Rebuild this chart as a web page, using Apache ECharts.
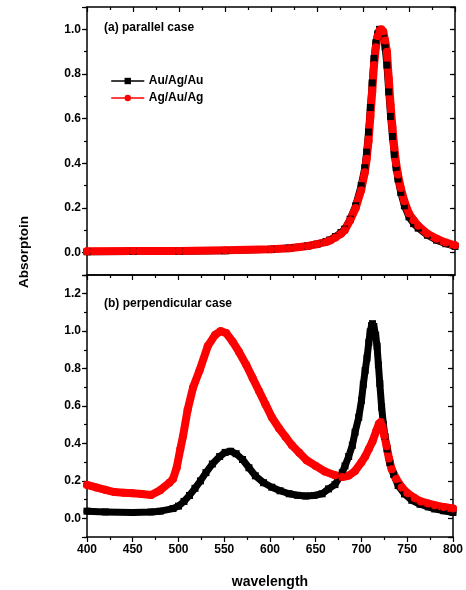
<!DOCTYPE html>
<html>
<head>
<meta charset="utf-8">
<script src="https://cdn.jsdelivr.net/npm/echarts@6/dist/echarts.min.js"></script>
<style>
  html, body { margin: 0; padding: 0; background: #fff; }
  #chart { width: 466px; height: 590px; }
</style>
</head>
<body>
<div id="chart"></div>
<script>
// (a) parallel case
const topAuWl = [400, 450, 500, 550, 600, 620, 640, 650, 660, 664, 670, 676, 680, 686, 692, 698, 702, 704, 706, 708, 710, 712, 714, 716, 718, 720, 722, 724, 726, 728, 730, 732, 734, 736, 738, 741, 745, 750, 755, 760, 770, 780, 790, 800]
const topAuAbs = [0.004, 0.005, 0.006, 0.009, 0.015, 0.021, 0.03, 0.038, 0.05, 0.057, 0.072, 0.09, 0.105, 0.15, 0.21, 0.30, 0.38, 0.45, 0.54, 0.65, 0.76, 0.87, 0.94, 0.98, 1.0, 0.995, 0.97, 0.92, 0.84, 0.72, 0.61, 0.52, 0.44, 0.38, 0.33, 0.27, 0.21, 0.16, 0.13, 0.11, 0.078, 0.056, 0.04, 0.028]
const topAgWl = [400, 450, 500, 550, 600, 620, 640, 650, 660, 664, 670, 676, 680, 686, 692, 698, 702, 704, 706, 708, 710, 712, 714, 716, 718, 720, 722, 724, 726, 728, 730, 732, 734, 736, 738, 741, 745, 750, 755, 760, 770, 780, 790, 800]
const topAgAbs = [0.006, 0.007, 0.008, 0.011, 0.015, 0.02, 0.03, 0.038, 0.048, 0.055, 0.068, 0.085, 0.1, 0.145, 0.2, 0.28, 0.36, 0.42, 0.50, 0.61, 0.72, 0.84, 0.92, 0.97, 0.995, 1.0, 0.99, 0.95, 0.90, 0.78, 0.66, 0.56, 0.47, 0.40, 0.35, 0.29, 0.23, 0.175, 0.145, 0.12, 0.085, 0.062, 0.045, 0.033]

// (b) perpendicular case
const botAuWl = [400, 420, 450, 470, 480, 494, 500, 506, 512, 518, 524, 530, 537, 545, 551, 557, 563, 570, 577, 584, 593, 602, 611, 621, 630, 639, 648, 657, 664, 671, 676, 679, 682, 686, 690, 693, 697, 700, 702, 704, 706, 708, 709.5, 711, 712, 713.5, 715.5, 717, 718.5, 720, 722, 724, 725.7, 728, 731, 735, 740, 747, 755, 764, 773, 780, 790, 800]
const botAuAbs = [0.038, 0.034, 0.031, 0.034, 0.038, 0.052, 0.065, 0.09, 0.122, 0.16, 0.2, 0.244, 0.29, 0.33, 0.352, 0.358, 0.345, 0.314, 0.27, 0.227, 0.19, 0.166, 0.147, 0.131, 0.123, 0.119, 0.122, 0.131, 0.157, 0.18, 0.22, 0.244, 0.28, 0.33, 0.39, 0.46, 0.54, 0.63, 0.716, 0.79, 0.856, 0.94, 0.996, 1.03, 1.04, 1.025, 0.978, 0.92, 0.82, 0.72, 0.594, 0.50, 0.437, 0.37, 0.297, 0.235, 0.175, 0.13, 0.096, 0.075, 0.061, 0.05, 0.04, 0.031]
const botAgWl = [400, 410, 420, 430, 440, 450, 460, 470, 480, 490, 494, 498, 502, 505, 510, 516, 523, 532, 540, 546, 552, 559, 566, 574, 581, 588, 595, 602, 610, 617, 624, 632, 640, 650, 660, 671, 679, 686, 693, 700, 704, 708, 712, 716, 719, 721, 723, 725, 727.5, 730, 733, 738, 744, 750, 758, 765, 773, 780, 790, 800]
const botAgAbs = [0.178, 0.165, 0.152, 0.14, 0.137, 0.134, 0.13, 0.124, 0.15, 0.19, 0.21, 0.27, 0.37, 0.44, 0.58, 0.70, 0.79, 0.92, 0.98, 1.0, 0.99, 0.945, 0.89, 0.82, 0.75, 0.68, 0.61, 0.54, 0.48, 0.435, 0.39, 0.35, 0.31, 0.28, 0.25, 0.23, 0.22, 0.228, 0.253, 0.30, 0.33, 0.37, 0.41, 0.465, 0.505, 0.515, 0.49, 0.44, 0.385, 0.32, 0.262, 0.21, 0.166, 0.135, 0.108, 0.09, 0.079, 0.07, 0.06, 0.052]

const seriesNames = ['Au/Ag/Au', 'Ag/Au/Ag']
const panelTitles = ['(a) parallel case', '(b) perpendicular case']
const xTicks = { min: 400, max: 800, step: 50 }
const yRanges = [[-0.1, 1.1], [-0.1, 1.3]]

const font = "'Liberation Sans', Arial, sans-serif"
const zip = (xs, ys) => xs.map((x, i) => [x, ys[i]])

const chart = echarts.init(document.getElementById('chart'))

const axisLine = { show: true, onZero: false, lineStyle: { color: '#000', width: 1.5 } }

const makeX = (grid, position, opts = {}) => ({
  type: 'value',
  gridIndex: grid,
  position: position,
  min: xTicks.min,
  max: xTicks.max,
  interval: xTicks.step,
  axisLine: axisLine,
  axisTick: { show: opts.ticks !== false, inside: !!opts.inside, length: 5, lineStyle: { width: 1.2 } },
  minorTick: { show: opts.ticks !== false, splitNumber: 2, length: 3, lineStyle: { color: '#000', width: 1.2 } },
  splitLine: { show: false },
  axisLabel: opts.labels
    ? { show: true, color: '#000', fontWeight: 'bold', fontSize: 12, fontFamily: font, margin: 7 }
    : { show: false },
  name: opts.name || '',
  nameLocation: 'middle',
  nameGap: 38,
  nameTextStyle: { color: '#000', fontWeight: 'bold', fontSize: 14, fontFamily: font }
})

// major axis (labels + long ticks), auto ticks at 0.2 steps
const makeYMajor = (grid, position, labels) => {
  const r = yRanges[grid]
  return {
    type: 'value',
    gridIndex: grid,
    position: position,
    min: r[0],
    max: r[1],
    splitNumber: Math.round((r[1] - r[0]) / 0.2),
    axisLine: axisLine,
    axisTick: { show: true, inside: position === 'right', length: 5, lineStyle: { width: 1.2 } },
    splitLine: { show: false },
    axisLabel: {
      show: labels,
      color: '#000',
      fontWeight: 'bold',
      fontSize: 12,
      fontFamily: font,
      margin: 6,
      formatter: v => (Math.abs(Math.round(v * 10)) % 2 === 0 ? v.toFixed(1) : '')
    }
  }
}

// minor ticks every 0.1
const makeYMinor = (grid, position) => {
  const r = yRanges[grid]
  return {
    type: 'value',
    gridIndex: grid,
    position: position,
    min: r[0],
    max: r[1],
    interval: 0.1,
    axisLine: { show: false, onZero: false },
    axisTick: { show: true, inside: position === 'right', length: 3, lineStyle: { width: 1.2, color: '#000' } },
    splitLine: { show: false },
    axisLabel: { show: false }
  }
}

const lineSeries = (name, data, xIdx, yIdx, color, symbol, size) => ({
  name: name,
  type: 'line',
  xAxisIndex: xIdx,
  yAxisIndex: yIdx,
  data: data,
  symbol: symbol,
  symbolSize: size,
  showSymbol: true,
  lineStyle: { color: color, width: size, join: 'round', cap: 'round' },
  itemStyle: { color: color },
  animation: false
})

const option = {
  animation: false,
  textStyle: { fontFamily: font },
  grid: [
    { left: 87, right: 11, top: 7, height: 268 },
    { left: 87, right: 11, top: 275, bottom: 47 }
  ],
  title: [
    { text: panelTitles[0], left: 99, top: 17, textStyle: { fontSize: 12, fontWeight: 'bold', color: '#000', fontFamily: font } },
    { text: panelTitles[1], left: 99, top: 293, textStyle: { fontSize: 12, fontWeight: 'bold', color: '#000', fontFamily: font } }
  ],
  legend: {
    orient: 'vertical',
    left: 106,
    top: 70,
    itemWidth: 32,
    itemHeight: 8,
    itemGap: 5,
    data: seriesNames,
    lineStyle: { width: 1.5 },
    textStyle: { fontSize: 12, fontWeight: 'bold', color: '#000', fontFamily: font }
  },
  graphic: [{
    type: 'text',
    x: 24,
    y: 252,
    rotation: Math.PI / 2,
    style: { text: 'Absorptoin', fill: '#000', font: 'bold 13.5px ' + font, align: 'center', verticalAlign: 'middle' }
  }],
  xAxis: [
    makeX(0, 'bottom', { ticks: false }),
    makeX(0, 'top', { inside: true }),
    makeX(1, 'bottom', { labels: true, name: 'wavelength' }),
    makeX(1, 'top', { inside: true })
  ],
  yAxis: [
    makeYMajor(0, 'left', true),
    makeYMinor(0, 'left'),
    makeYMajor(0, 'right', false),
    makeYMinor(0, 'right'),
    makeYMajor(1, 'left', true),
    makeYMinor(1, 'left'),
    makeYMajor(1, 'right', false),
    makeYMinor(1, 'right')
  ],
  series: [
    lineSeries(seriesNames[0], zip(topAuWl, topAuAbs), 0, 0, '#000000', 'rect', 7),
    lineSeries(seriesNames[1], zip(topAgWl, topAgAbs), 0, 0, '#ff0000', 'circle', 8),
    lineSeries(seriesNames[0], zip(botAuWl, botAuAbs), 2, 4, '#000000', 'rect', 7),
    lineSeries(seriesNames[1], zip(botAgWl, botAgAbs), 2, 4, '#ff0000', 'circle', 8)
  ]
}

chart.setOption(option)
</script>
</body>
</html>
